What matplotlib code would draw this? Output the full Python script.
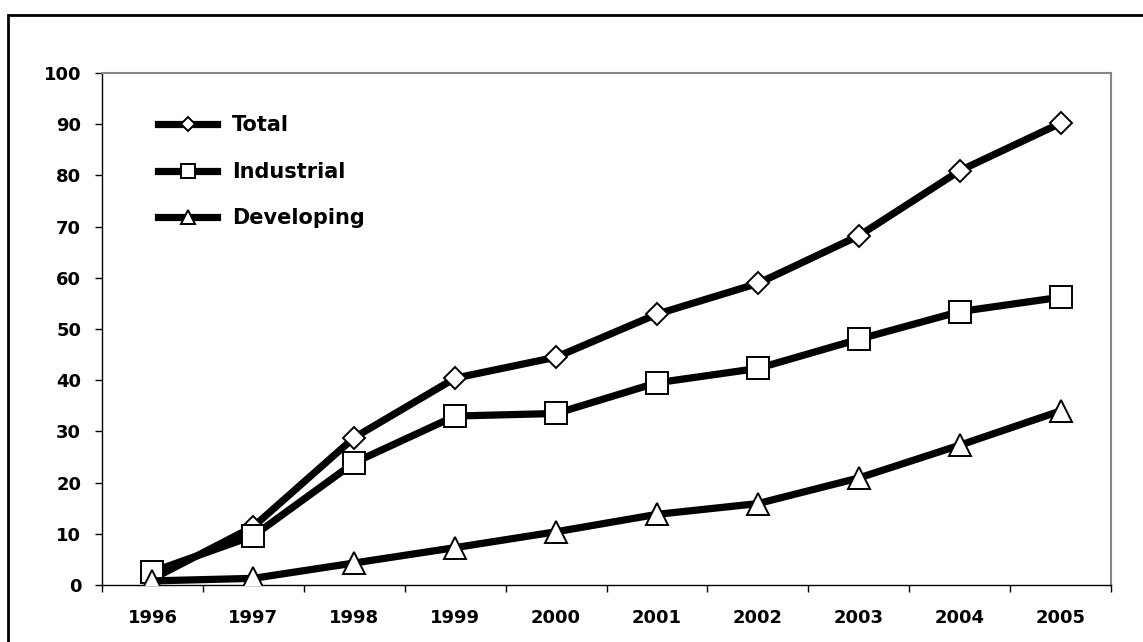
import matplotlib
matplotlib.use('Agg')
import matplotlib.pyplot as plt
from matplotlib.patches import Rectangle
import numpy as np

# values
years = ['1996', '1997', '1998', '1999', '2000', '2001', '2002', '2003', '2004', '2005']
total = [1.2, 11.4, 28.8, 40.4, 44.5, 52.9, 58.9, 68.2, 80.9, 90.2]
industrial = [2.6, 9.6, 23.9, 33.0, 33.5, 39.5, 42.3, 48.0, 53.4, 56.2]
developing = [0.8, 1.3, 4.3, 7.3, 10.4, 13.8, 15.9, 20.9, 27.3, 34.0]

plt.rcParams['font.family'] = ['DejaVu Sans']
plt.rcParams['font.weight'] = 'bold'

fig = plt.figure(figsize=(11.43, 6.42), dpi=100)
ax = fig.add_axes([102 / 1143, 1 - 585 / 642, 1009 / 1143, 512 / 642])

x = np.arange(len(years))
style = dict(color='black', lw=5.2, mfc='white', mec='black', mew=1.4)
ax.plot(x, total, marker='D', ms=11.5, label='Total', zorder=3, **style)
ax.plot(x, industrial, marker='s', ms=16, label='Industrial', zorder=4, **style)
ax.plot(x, developing, marker='^', ms=16, label='Developing', zorder=5, **style)

ax.set_xlim(-0.5, len(years) - 0.5)
ax.set_ylim(0, 100)
ax.set_yticks(range(0, 101, 10))
ax.set_xticks(x)
ax.set_xticklabels(years)
ax.set_xticks(np.arange(-0.5, len(years), 1), minor=True)
ax.tick_params(axis='x', which='major', length=0, pad=17, labelsize=13)
ax.tick_params(axis='x', which='minor', length=5, width=1, direction='out')
ax.tick_params(axis='y', length=5, width=1, direction='out', pad=10, labelsize=13)

for s in ['left', 'bottom']:
    ax.spines[s].set_color('black')
    ax.spines[s].set_linewidth(1)
for s in ['top', 'right']:
    ax.spines[s].set_color('#888888')
    ax.spines[s].set_linewidth(1.5)

leg = ax.legend(loc='center left', bbox_to_anchor=(0.0555, 0.807), frameon=False,
                fontsize=15, handlelength=2.85, handletextpad=0.7, labelspacing=1.28,
                borderpad=0, borderaxespad=0, markerscale=0.65)
for t in leg.get_texts():
    t.set_fontweight('bold')

# outer frame, cut off at the right and bottom like the original
fig.patches.append(Rectangle((8 / 1143, -1), 2, 1 + 1 - 15 / 642, transform=fig.transFigure,
                             fill=False, edgecolor='black', lw=2, clip_on=False))

fig.savefig('out.png', dpi=100)
